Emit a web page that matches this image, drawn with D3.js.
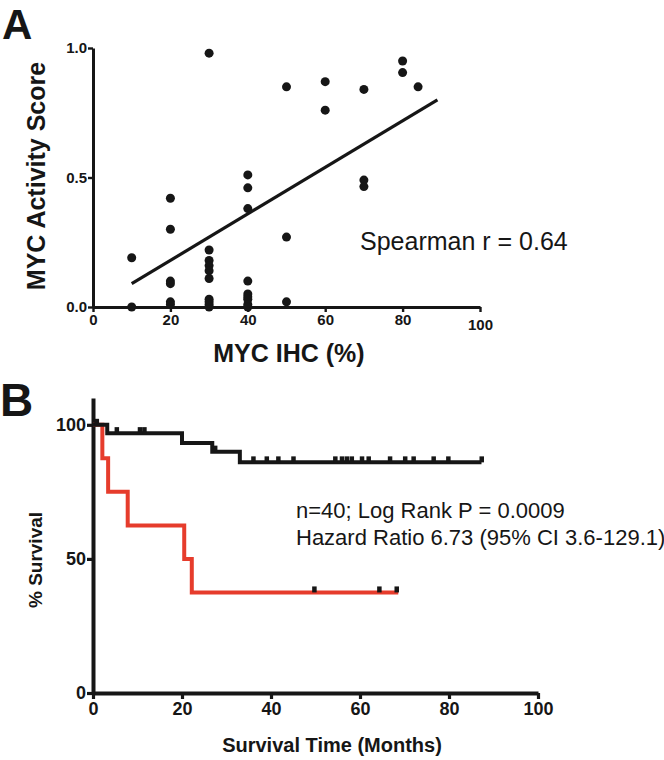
<!DOCTYPE html>
<html>
<head>
<meta charset="utf-8">
<script src="https://cdn.jsdelivr.net/npm/d3@7"></script>
<style>
  body { margin: 0; background: #fff; }
  svg { display: block; font-family: "Liberation Sans", Arial, sans-serif; }
</style>
</head>
<body>
<div id="chart"></div>
<script>
const W = 664, H = 760;
const INK = "#161616";
const RED = "#e63c2c";

// panel A - MYC IHC vs activity score
const ihcPct = [10, 10,
  20, 20, 20, 20, 20, 20,
  30, 30, 30, 30, 30, 30, 30, 30, 30, 30,
  40, 40, 40, 40, 40, 40, 40, 40, 40,
  50, 50, 50,
  60, 60,
  70, 70, 70,
  80, 80,
  84];
const activityScore = [0.19, 0.00,
  0.42, 0.30, 0.10, 0.09, 0.02, 0.01,
  0.98, 0.22, 0.18, 0.16, 0.14, 0.11, 0.03, 0.02, 0.01, 0.00,
  0.51, 0.46, 0.38, 0.10, 0.05, 0.04, 0.03, 0.01, 0.00,
  0.85, 0.27, 0.02,
  0.87, 0.76,
  0.84, 0.49, 0.465,
  0.95, 0.905,
  0.85];
const fitX = [10, 89];
const fitY = [0.09, 0.80];
const ihcTicks = [0, 20, 40, 60, 80, 100];
const scoreTicks = [0, 0.5, 1.0];

// panel B - Kaplan-Meier
const blackTimes = [0, 3.2, 20, 26.8, 33, 87.3];
const blackSurv = [100, 96.9, 93.2, 90, 86, 86];
const blackCensor = [0.8, 5.3, 10.5, 11.5, 27.4, 36, 39, 41.6, 45, 54.4, 55.9, 57, 58.1,
  60.4, 61.9, 66.7, 70.1, 72, 76.5, 79.8, 87.3];
const redTimes = [0, 2.1, 3.4, 7.8, 20.5, 22.2, 68.6];
const redSurv = [100, 87.5, 75, 62.5, 50, 37.5, 37.5];
const redCensor = [49.7, 64.3, 68.2];
const monthTicks = [0, 20, 40, 60, 80, 100];
const survTicks = [0, 50, 100];

const svg = d3.select("#chart").append("svg")
    .attr("width", W)
    .attr("height", H);

function styleAxis(g, width, fontSize) {
	g.select(".domain").attr("stroke", INK).attr("stroke-width", width);
	g.selectAll(".tick line").attr("stroke", INK).attr("stroke-width", width * 0.8);
	g.selectAll(".tick text")
		.attr("fill", INK)
		.style("font-size", fontSize + "px")
		.style("font-weight", "bold")
		.style("font-family", "\"Liberation Sans\", Arial, sans-serif");
}

// ---------- panel A ----------
const xA = d3.scaleLinear().domain([0, 100]).range([93, 480]);
const yA = d3.scaleLinear().domain([0, 1]).range([307, 48]);

const axA = svg.append("g").attr("transform", "translate(0," + yA(0) + ")")
	.call(d3.axisBottom(xA).tickValues(ihcTicks).tickSize(5).tickSizeOuter(0).tickPadding(2));
styleAxis(axA, 3, 15);
axA.selectAll(".tick text").filter(d => d == 100).attr("dy", "1.05em");

const ayA = svg.append("g").attr("transform", "translate(" + xA(0) + ",0)")
	.call(d3.axisLeft(yA).tickValues(scoreTicks).tickFormat(d3.format(".1f")).tickSize(5).tickSizeOuter(0).tickPadding(1));
styleAxis(ayA, 3, 15);

svg.append("line")
	.attr("x1", xA(fitX[0])).attr("y1", yA(fitY[0]))
	.attr("x2", xA(fitX[1])).attr("y2", yA(fitY[1]))
	.attr("stroke", INK).attr("stroke-width", 3.2);

svg.append("g").selectAll("circle")
	.data(ihcPct.map((d, i) => ({x: d, y: activityScore[i]})))
	.enter().append("circle")
	.attr("cx", d => xA(d.x))
	.attr("cy", d => yA(d.y))
	.attr("r", 4.5)
	.attr("fill", INK);

svg.append("text")
	.attr("x", 360).attr("y", 250)
	.style("font-size", "25px")
	.attr("fill", INK)
	.text("Spearman r = 0.64");

svg.append("text")
	.attr("transform", "translate(45,176) rotate(-90)")
	.attr("text-anchor", "middle")
	.style("font-size", "25px").style("font-weight", "bold")
	.attr("fill", INK)
	.text("MYC Activity Score");

svg.append("text")
	.attr("x", 289).attr("y", 362)
	.attr("text-anchor", "middle")
	.style("font-size", "25px").style("font-weight", "bold")
	.attr("fill", INK)
	.text("MYC IHC (%)");

svg.append("text")
	.attr("x", 2).attr("y", 39)
	.style("font-size", "42px").style("font-weight", "bold")
	.attr("fill", INK)
	.text("A");

// ---------- panel B ----------
const xB = d3.scaleLinear().domain([0, 100]).range([93, 538]);
const yB = d3.scaleLinear().domain([0, 110]).range([693, 398]);

const axB = svg.append("g").attr("transform", "translate(0," + yB(0) + ")")
	.call(d3.axisBottom(xB).tickValues(monthTicks).tickSize(6).tickSizeOuter(0).tickPadding(3));
styleAxis(axB, 4, 18);

const ayB = svg.append("g").attr("transform", "translate(" + xB(0) + ",0)")
	.call(d3.axisLeft(yB).tickValues(survTicks).tickSize(6).tickSizeOuter(0).tickPadding(1));
styleAxis(ayB, 4, 18);

const kmLine = d3.line()
	.x(d => xB(d.t))
	.y(d => yB(d.s))
	.curve(d3.curveStepAfter);

function kmData(times, surv) {
	return times.map((t, i) => ({t: t, s: surv[i]}));
}

// survival value of a step curve at time t
function survAt(times, surv, t) {
	var s = surv[0];
	for (var i = 0; i < times.length; i++) {
		if (times[i] <= t) s = surv[i];
	}
	return s;
}

svg.append("path")
	.datum(kmData(redTimes, redSurv))
	.attr("d", kmLine)
	.attr("fill", "none")
	.attr("stroke", RED)
	.attr("stroke-width", 4);

svg.append("path")
	.datum(kmData(blackTimes, blackSurv))
	.attr("d", kmLine)
	.attr("fill", "none")
	.attr("stroke", INK)
	.attr("stroke-width", 4);

// censor marks
function drawCensor(times, surv, marks) {
	svg.append("g").selectAll("rect")
		.data(marks)
		.enter().append("rect")
		.attr("x", d => xB(d) - 2)
		.attr("y", d => yB(survAt(times, surv, d)) - 6)
		.attr("width", 4.5)
		.attr("height", 6)
		.attr("fill", INK);
}
drawCensor(blackTimes, blackSurv, blackCensor);
drawCensor(redTimes, redSurv, redCensor);

svg.append("text")
	.attr("x", 296).attr("y", 518)
	.style("font-size", "22px")
	.attr("fill", INK)
	.text("n=40; Log Rank P = 0.0009");

svg.append("text")
	.attr("x", 296).attr("y", 545)
	.style("font-size", "22px")
	.attr("fill", INK)
	.text("Hazard Ratio 6.73 (95% CI 3.6-129.1)");

svg.append("text")
	.attr("transform", "translate(42,560) rotate(-90)")
	.attr("text-anchor", "middle")
	.style("font-size", "19px").style("font-weight", "bold")
	.attr("fill", INK)
	.text("% Survival");

svg.append("text")
	.attr("x", 332).attr("y", 752)
	.attr("text-anchor", "middle")
	.style("font-size", "20px").style("font-weight", "bold")
	.attr("fill", INK)
	.text("Survival Time (Months)");

svg.append("text")
	.attr("x", 0).attr("y", 416)
	.style("font-size", "46px").style("font-weight", "bold")
	.attr("fill", INK)
	.text("B");
</script>
</body>
</html>
